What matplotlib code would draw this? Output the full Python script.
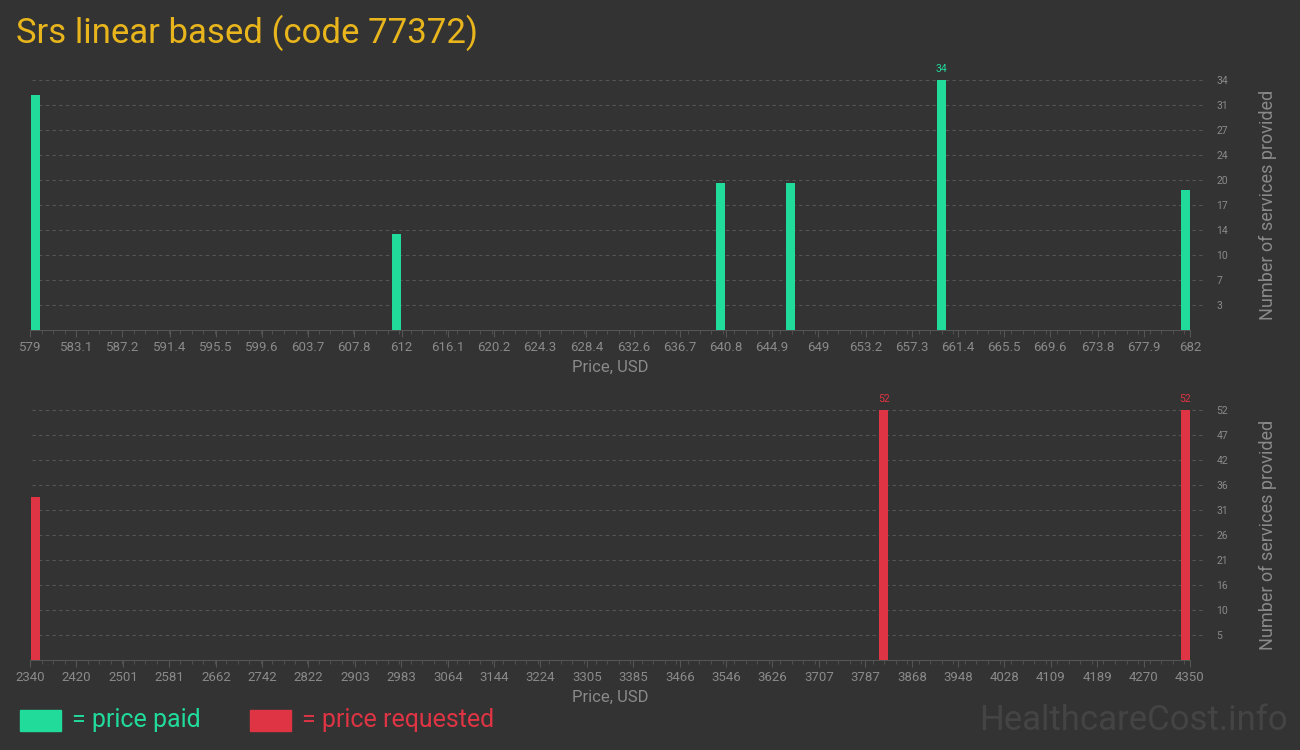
import matplotlib.pyplot as plt
import matplotlib.patches as mpatches
import numpy as np
from matplotlib.ticker import AutoMinorLocator

# Datos
paid_price = [579.5, 611.5, 640.3, 646.5, 659.9, 681.6]
paid_count = [32, 13, 20, 20, 34, 19]
paid_ticks = [579, 583.1, 587.2, 591.4, 595.5, 599.6, 603.7, 607.8, 612, 616.1,
              620.2, 624.3, 628.4, 632.6, 636.7, 640.8, 644.9, 649, 653.2, 657.3,
              661.4, 665.5, 669.6, 673.8, 677.9, 682]
paid_ylabels = ['3', '7', '10', '14', '17', '20', '24', '27', '31', '34']

req_price = [2349.5, 3819, 4342]
req_count = [34, 52, 52]
req_ticks = [2340, 2420, 2501, 2581, 2662, 2742, 2822, 2903, 2983, 3064, 3144,
             3224, 3305, 3385, 3466, 3546, 3626, 3707, 3787, 3868, 3948, 4028,
             4109, 4189, 4270, 4350]
req_ylabels = ['5', '10', '16', '21', '26', '31', '36', '42', '47', '52']

BG = '#333333'
GREEN = '#21db9b'
RED = '#de3443'
GREY = '#8a8a8a'
GRID = '#555555'
TICKFONT = 'Roboto'

fig = plt.figure(figsize=(13, 7.5), dpi=100, facecolor=BG)
W, H = 1300, 750


def panel(x, y, ticks, ylabels, ymax, color, bar_w, top, bottom):
    ax = fig.add_axes([30 / W, 1 - bottom / H, 1160 / W, (bottom - top) / H])
    ax.set_facecolor(BG)
    ax.bar(x, y, width=bar_w, color=color, zorder=3)
    ax.set_xlim(ticks[0], ticks[-1])
    ax.set_ylim(0, ymax)
    # ticks evenly spaced, labels rounded
    ypos = [ymax * (i + 1) / len(ylabels) for i in range(len(ylabels))]
    for yp in ypos:
        ax.plot([0.002, 1.013], [yp / ymax, yp / ymax], transform=ax.transAxes,
                color=GRID, ls=(0, (3, 3)), lw=0.8, clip_on=False, zorder=1)
    for s in ['top', 'right', 'left']:
        ax.spines[s].set_visible(False)
    ax.spines['bottom'].set_color(GRID)
    ax.set_xticks(ticks)
    ax.set_xticklabels([f'{t:g}' for t in ticks], fontsize=9.5, color=GREY,
                       family=TICKFONT)
    ax.xaxis.set_minor_locator(AutoMinorLocator(4))
    ax.tick_params(axis='x', which='major', colors=GRID, length=5, pad=3)
    ax.tick_params(axis='x', which='minor', colors=GRID, length=3)
    for lbl in ax.get_xticklabels():
        lbl.set_color(GREY)
    ax.yaxis.tick_right()
    ax.set_yticks(ypos)
    ax.set_yticklabels(ylabels, fontsize=7.5, color=GREY, family=TICKFONT)
    ax.tick_params(axis='y', length=0, pad=19)
    ax.set_xlabel('Price, USD', color=GREY, fontsize=12, family='Roboto',
                  labelpad=4)
    ax.yaxis.set_label_position('right')
    ax.set_ylabel('Number of services provided', color=GREY, fontsize=13,
                  family='Roboto', labelpad=22)
    top_val = max(y)
    for xi, yi in zip(x, y):
        if yi == top_val:
            ax.text(xi, yi + ymax * 0.025, str(yi), ha='center', va='bottom',
                    color=color, fontsize=7.5, family=TICKFONT)
    return ax


panel(paid_price, paid_count, paid_ticks, paid_ylabels, 34, GREEN, 0.8, 80, 330)
panel(req_price, req_count, req_ticks, req_ylabels, 52, RED, 15.6, 410, 660)

fig.text(16 / W, 1 - 33 / H, 'Srs linear based (code 77372)', color='#e8b51c',
         fontsize=25, family='Roboto', va='center', ha='left')

fig.patches.append(mpatches.Rectangle((20 / W, 1 - 731 / H), 41 / W, 21 / H,
                                      transform=fig.transFigure, color=GREEN))
fig.text(72 / W, 1 - 720 / H, '= price paid', color=GREEN, fontsize=18,
         family='Roboto', va='center', ha='left')
fig.patches.append(mpatches.Rectangle((250 / W, 1 - 731 / H), 41 / W, 21 / H,
                                      transform=fig.transFigure, color=RED))
fig.text(302 / W, 1 - 720 / H, '= price requested', color=RED, fontsize=18,
         family='Roboto', va='center', ha='left')

fig.text(1288 / W, 1 - 720 / H, 'HealthcareCost.info', color='#444444',
         fontsize=25, family='Roboto', va='center', ha='right')

fig.savefig('out.png', dpi=100, facecolor=BG)
